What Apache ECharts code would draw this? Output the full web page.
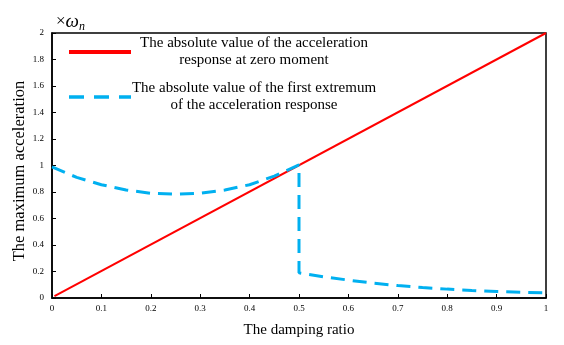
<!DOCTYPE html>
<html>
<head>
<meta charset="utf-8">
<script src="https://cdn.jsdelivr.net/npm/echarts@6/dist/echarts.min.js"></script>
<style>html,body{margin:0;padding:0;background:#fff}#c{width:564px;height:345px}</style>
</head>
<body>
<div id="c"></div>
<script>
var xTicks = [0, 0.1, 0.2, 0.3, 0.4, 0.5, 0.6, 0.7, 0.8, 0.9, 1];
var yTicks = [0, 0.2, 0.4, 0.6, 0.8, 1, 1.2, 1.4, 1.6, 1.8, 2];
var redX = [0.005, 1.0];
var redY = [0.015, 2.0];
var blueX = [0, 0.05, 0.1, 0.15, 0.2, 0.25, 0.3, 0.35, 0.4, 0.45, 0.5, 0.5, 0.55, 0.6, 0.65, 0.7, 0.75, 0.8, 0.85, 0.9, 0.95, 0.995];
var blueY = [0.99, 0.91, 0.855, 0.815, 0.79, 0.783, 0.79, 0.815, 0.855, 0.92, 1.005, 0.19, 0.16, 0.135, 0.112, 0.094, 0.079, 0.067, 0.057, 0.049, 0.043, 0.04];
var seriesNames = ['The absolute value of the acceleration\nresponse at zero moment', 'The absolute value of the first extremum\nof the acceleration response'];

function pairs(xs, ys) { return xs.map(function (x, i) { return [x, ys[i]]; }); }

var font = '"Liberation Serif", "Times New Roman", serif';
var chart = echarts.init(document.getElementById('c'), null, {renderer: 'canvas'});
chart.setOption({
  animation: false,
  backgroundColor: '#fff',
  textStyle: {fontFamily: font},
  grid: {left: 52, right: 18, top: 33, bottom: 47, show: true, borderColor: '#000', borderWidth: 1.5},
  graphic: [{
    type: 'text', left: 56, top: 12,
    style: {
      text: '{a|×}{w|ω}{n|n}',
      rich: {
        a: {fontFamily: font, fontSize: 17, fill: '#000'},
        w: {fontFamily: font, fontSize: 19, fontStyle: 'italic', fill: '#000'},
        n: {fontFamily: font, fontSize: 12, fontStyle: 'italic', fill: '#000', padding: [10, 0, 0, 0]}
      }
    }
  }],
  legend: {
    orient: 'vertical', left: 62, top: 31, itemWidth: 62, itemHeight: 14, itemGap: 13,
    data: [
      {name: seriesNames[0], lineStyle: {width: 4}},
      {name: seriesNames[1], lineStyle: {width: 3.5, type: [15, 10]}}
    ],
    itemStyle: {opacity: 0},
    formatter: function (n) {
      return n.split('\n').map(function (s) { return '{a|' + s + '}'; }).join('\n');
    },
    textStyle: {
      fontFamily: font, color: '#000', fontSize: 15,
      rich: {a: {width: 236, align: 'center', fontFamily: font, fontSize: 15, lineHeight: 17, color: '#000'}}
    }
  },
  xAxis: {
    type: 'value', min: 0, max: 1, interval: 0.1,
    name: 'The damping ratio', nameLocation: 'middle', nameGap: 25, nameMoveOverlap: false,
    nameTextStyle: {fontFamily: font, fontSize: 15, color: '#000'},
    axisLine: {lineStyle: {color: '#000', width: 1.5}},
    axisTick: {inside: true, length: 4, lineStyle: {color: '#000'}},
    axisLabel: {fontFamily: font, fontSize: 9, color: '#000', margin: 6,
      formatter: function (v) { var r = Math.round(v * 10) / 10; return xTicks.indexOf(r) >= 0 ? String(r) : ''; }},
    splitLine: {show: false}
  },
  yAxis: {
    type: 'value', min: 0, max: 2, interval: 0.2,
    name: 'The maximum acceleration', nameLocation: 'middle', nameGap: 24, nameMoveOverlap: false,
    nameTextStyle: {fontFamily: font, fontSize: 16.5, color: '#000', padding: [0, 11, 0, 0]},
    axisLine: {lineStyle: {color: '#000', width: 1.5}},
    axisTick: {inside: true, length: 4, lineStyle: {color: '#000'}},
    axisLabel: {fontFamily: font, fontSize: 9, color: '#000', margin: 8,
      formatter: function (v) { var r = Math.round(v * 10) / 10; return yTicks.indexOf(r) >= 0 ? String(r) : ''; }},
    splitLine: {show: false}
  },
  series: [{
    name: seriesNames[0], type: 'line', data: pairs(redX, redY),
    symbol: 'none', showSymbol: false,
    lineStyle: {color: '#ff0000', width: 2}, itemStyle: {color: '#ff0000'}
  }, {
    name: seriesNames[1], type: 'line', data: pairs(blueX, blueY),
    symbol: 'none', showSymbol: false,
    lineStyle: {color: '#00b0f0', width: 3, type: [14, 8]}, itemStyle: {color: '#00b0f0'}
  }]
});
</script>
</body>
</html>
